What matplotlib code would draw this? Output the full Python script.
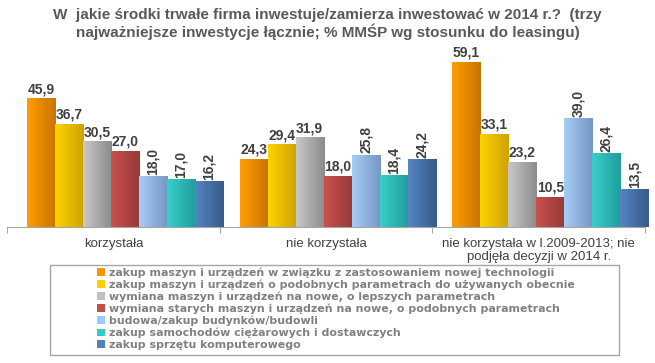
import numpy as np
import matplotlib
matplotlib.use("Agg")
import matplotlib.pyplot as plt
from matplotlib.colors import to_rgb
from matplotlib.patches import Rectangle, Patch

plt.rcParams['font.family'] = ['Liberation Sans', 'DejaVu Sans']

categories = ["korzystała", "nie korzystała", "nie korzystała w l.2009-2013; nie\npodjęła decyzji w 2014 r."]
series = [
    "zakup maszyn i urządzeń w związku z zastosowaniem nowej technologii",
    "zakup maszyn i urządzeń o podobnych parametrach do używanych obecnie",
    "wymiana maszyn i urządzeń na nowe, o lepszych parametrach",
    "wymiana starych maszyn i urządzeń na nowe, o podobnych parametrach",
    "budowa/zakup budynków/budowli",
    "zakup samochodów ciężarowych i dostawczych",
    "zakup sprzętu komputerowego",
]
values = [
    [45.9, 24.3, 59.1],
    [36.7, 29.4, 33.1],
    [30.5, 31.9, 23.2],
    [27.0, 18.0, 10.5],
    [18.0, 25.8, 39.0],
    [17.0, 18.4, 26.4],
    [16.2, 24.2, 13.5],
]
rotated = [False, False, False, False, True, True, True]

# (light, dark) gradient ends per series, plus legend swatch colour
grad = [("#ff9d00", "#c97400"), ("#ffd200", "#cfa300"), ("#c8c8c8", "#8c8c8c"),
        ("#c9504d", "#953a38"), ("#a6cdf5", "#7597c4"), ("#38cfcb", "#1f9e9c"),
        ("#5585c2", "#375a88")]
swatch = ["#f79600", "#ffcc00", "#bfbfbf", "#c0504d", "#99ccff", "#33cccc", "#4f81bd"]

fig = plt.figure(figsize=(6.55, 3.63), dpi=100)
ax = fig.add_axes([7 / 655, 1 - 227 / 363, 638 / 655, 170 / 363])

bw = 0.1317
start = 0.094
x = np.arange(len(categories))
for k, vals in enumerate(values):
    lefts = x + start + k * bw
    bars = ax.bar(lefts, vals, width=bw, align='edge', color=swatch[k],
                  linewidth=0, clip_on=False)
    c0, c1 = np.array(to_rgb(grad[k][0])), np.array(to_rgb(grad[k][1]))
    g = np.linspace(0, 1, 32)[:, None] * (c1 - c0) + c0
    for b in bars:
        ax.imshow(g[None, :, :], extent=[b.get_x(), b.get_x() + b.get_width(), 0, b.get_height()],
                  aspect='auto', clip_on=False, zorder=2, interpolation='bilinear')
        cx = b.get_x() + b.get_width() / 2
        lbl = f"{b.get_height():.1f}".replace(".", ",")
        if rotated[k]:
            ax.text(cx, b.get_height() + 0.6, lbl, rotation=90, ha='center', va='bottom',
                    fontsize=10, fontweight='bold', color='#404040', zorder=3)
        else:
            ax.text(cx, b.get_height() + 1.0, lbl, ha='center', va='bottom',
                    fontsize=10, fontweight='bold', color='#404040', zorder=3)

ax.set_xlim(0, 3)
ax.set_ylim(0, 170 / 2.79)
for s in ['top', 'left', 'right']:
    ax.spines[s].set_visible(False)
ax.spines['bottom'].set_color('#a6a6a6')
ax.set_yticks([])
ax.set_xticks([0, 1, 2, 3])
ax.set_xticklabels([])
ax.tick_params(axis='x', length=4, color='#a6a6a6', direction='out')
ax.set_xticks(x + 0.5, minor=True)
ax.set_xticklabels(categories, minor=True, fontsize=9.5, color='#404040', linespacing=1.05)
ax.tick_params(axis='x', which='minor', length=0, pad=8)

fig.text(0.5, 1 - 24 / 363,
         "W  jakie środki trwałe firma inwestuje/zamierza inwestować w 2014 r.?  (trzy\n"
         "najważniejsze inwestycje łącznie; % MMŚP wg stosunku do leasingu)",
         ha='center', va='center', fontsize=11, fontweight='bold', color='#595959',
         linespacing=1.15)

# legend frame
fig.patches.append(Rectangle((50 / 655, 1 - 355 / 363), 569 / 655, 90 / 363,
                             transform=fig.transFigure, fill=False, edgecolor='#a6a6a6',
                             linewidth=1))
handles = [Patch(facecolor=c, edgecolor='none') for c in swatch]
fig.legend(handles, series, loc='upper left', bbox_to_anchor=(97 / 655, 1 - 267 / 363),
           frameon=False, prop={'family': 'DejaVu Sans', 'weight': 'bold', 'size': 7.9},
           labelcolor='#808080', handlelength=0.7, handleheight=0.7, handletextpad=0.4,
           labelspacing=0.15, borderpad=0, borderaxespad=0)

fig.savefig("out.png", dpi=100)
